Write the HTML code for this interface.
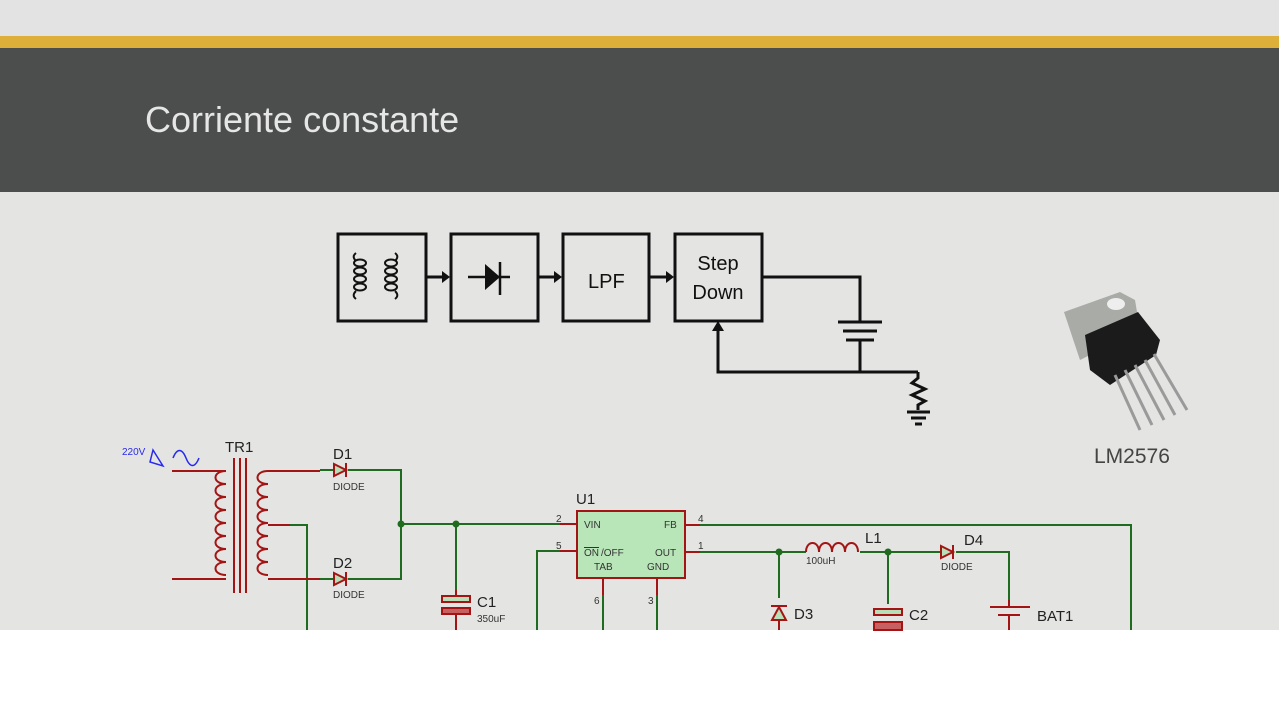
<!DOCTYPE html><html><head><style>
body{margin:0;width:1279px;height:720px;overflow:hidden;background:#fff;font-family:"Liberation Sans",sans-serif}
</style></head><body>
<svg width="1279" height="720" xmlns="http://www.w3.org/2000/svg" style="position:absolute;left:0;top:0">
<rect x="0" y="0" width="1279" height="36" fill="#e3e3e3"/>
<rect x="0" y="36" width="1279" height="12" fill="#deb03a"/>
<rect x="0" y="48" width="1279" height="144" fill="#4b4e4d"/>
<rect x="0" y="192" width="1279" height="438" fill="#e4e4e2"/>
<text x="145" y="132" font-size="36" fill="#e6e6e6">Corriente constante</text>
<g fill="none" stroke="#111" stroke-width="3">
<rect x="338" y="234" width="88" height="87"/><rect x="451" y="234" width="87" height="87"/>
<rect x="563" y="234" width="86" height="87"/><rect x="675" y="234" width="87" height="87"/>
<path d="M426 277H442M538 277H554M649 277H666"/>
<path d="M762 277H860V322M860 340V372H718V330M860 372H918"/>
<path d="M838 322H882M843 331H877M846 340H874" stroke-width="3"/>
<path d="M918 372V378L912 383L925 389L912 395L925 401L918 405V410M907 412H930M911 418H926M915 424H922"/>
<g stroke-width="2">
<ellipse cx="360" cy="263" rx="6" ry="3.5"/><ellipse cx="360" cy="271" rx="6" ry="3.5"/><ellipse cx="360" cy="279" rx="6" ry="3.5"/><ellipse cx="360" cy="287" rx="6" ry="3.5"/>
<ellipse cx="391" cy="263" rx="6" ry="3.5"/><ellipse cx="391" cy="271" rx="6" ry="3.5"/><ellipse cx="391" cy="279" rx="6" ry="3.5"/><ellipse cx="391" cy="287" rx="6" ry="3.5"/>
<path d="M356 253c-4 3-2 6 0 8M356 299c-4-3-2-6 0-8M395 253c4 3 2 6 0 8M395 299c4-3 2-6 0-8"/>
</g>
<path d="M468 277H510M500 262V295" stroke-width="2.5"/>
</g>
<g fill="#111"><path d="M442 271L450 277L442 283Z M554 271L562 277L554 283Z M666 271L674 277L666 283Z M712 331L718 321L724 331Z M485 264L500 277L485 290Z"/></g>
<text x="588" y="288" font-size="20" fill="#111">LPF</text>
<text x="718" y="270" font-size="20" fill="#111" text-anchor="middle">Step</text>
<text x="718" y="299" font-size="20" fill="#111" text-anchor="middle">Down</text>
<g transform="translate(1060,290)">
<path d="M4 22L60 2L75 10L80 40L20 70Z" fill="#a9aba7"/>
<ellipse cx="56" cy="14" rx="9" ry="6" fill="#eee"/>
<path d="M25 45L78 22L100 50L96 65L50 95L30 80Z" fill="#1b1b1b"/>
<g stroke="#9a9a9a" stroke-width="3"><path d="M55 85L80 140M65 80L92 135M75 75L104 130M85 70L115 125M94 64L127 120"/></g>
</g>
<text x="1094" y="463" font-size="21" fill="#444">LM2576</text>
<g fill="none" stroke-width="2">
<g stroke="#1f6b1f">
<path d="M320 470H334M348 470H401V579H348M320 579H334M401 524H560M456 524V590M537 630V551H560M307 630V525H290M603 595V630M657 595V630M700 525H1131V630M700 552H806M779 552V598M860 552H941M888 552V604M956 552H1009V600"/>
</g>
<g stroke="#a31515">
<path d="M172 471H226M172 579H226M268 471H320M268 579H320M268 525H290M560 524H577M560 551H577M685 525H700M685 552H700M603 578V595M657 578V595M779 620V630M888 628V630M1009 615V630M1009 600V607"/>
<path d="M226 471c-14 0 -14 13 0 13c-14 0 -14 13 0 13c-14 0 -14 13 0 13c-14 0 -14 13 0 13c-14 0 -14 13 0 13c-14 0 -14 13 0 13c-14 0 -14 13 0 13c-14 0 -14 13 0 13"/>
<path d="M268 471c-14 0 -14 13 0 13c-14 0 -14 13 0 13c-14 0 -14 13 0 13c-14 0 -14 13 0 13c-14 0 -14 13 0 13c-14 0 -14 13 0 13c-14 0 -14 13 0 13c-14 0 -14 13 0 13"/>
<path d="M234 458V593M240 458V593M246 458V593"/>
<path d="M806 552c0-12 13-12 13 0c0-12 13-12 13 0c0-12 13-12 13 0c0-12 13-12 13 0"/>
<path d="M990 607H1030M998 615H1020M456 590V596M456 614V630"/>
<rect x="442" y="596" width="28" height="6" fill="#b8e0b8"/>
<rect x="442" y="608" width="28" height="6" fill="#c76060"/>
<rect x="874" y="609" width="28" height="6" fill="#b8e0b8"/>
<rect x="874" y="622" width="28" height="8" fill="#c76060"/>
<rect x="577" y="511" width="108" height="67" fill="#b8e6b8"/>
<path d="M334 464L346 470L334 476ZM346 463V477M334 573L346 579L334 585ZM346 572V586M941 546L953 552L941 558ZM953 545V559M772 620L779 607L786 620ZM771 606H787" fill="#b8e0b8"/>
</g>
<path d="M163 466L153 450L150 462Z" stroke="#2a2aee" stroke-width="1.5"/>
<path d="M173 458c4-10 9-10 13 0s9 10 13 0" stroke="#2a2aee" stroke-width="1.5"/>
</g>
<circle cx="401" cy="524" r="3.5" fill="#1f6b1f"/><circle cx="456" cy="524" r="3.5" fill="#1f6b1f"/>
<circle cx="779" cy="552" r="3.5" fill="#1f6b1f"/><circle cx="888" cy="552" r="3.5" fill="#1f6b1f"/>
<g font-size="10" fill="#333">
<text x="122" y="455" fill="#2a2aee">220V</text>
<text x="333" y="490">DIODE</text><text x="333" y="598">DIODE</text>
<text x="477" y="622">350uF</text><text x="806" y="564">100uH</text><text x="941" y="570">DIODE</text>
<text x="584" y="528">VIN</text><text x="664" y="528">FB</text>
<text x="584" y="556" text-decoration="overline">ON</text><text x="601" y="556">/OFF</text>
<text x="655" y="556">OUT</text><text x="594" y="570">TAB</text><text x="647" y="570">GND</text>
<text x="556" y="522">2</text><text x="556" y="549">5</text><text x="698" y="522">4</text><text x="698" y="549">1</text>
<text x="594" y="604">6</text><text x="648" y="604">3</text>
</g>
<g font-size="15" fill="#222">
<text x="225" y="452">TR1</text><text x="333" y="459">D1</text><text x="333" y="568">D2</text>
<text x="477" y="607">C1</text><text x="576" y="504">U1</text><text x="865" y="543">L1</text>
<text x="964" y="545">D4</text><text x="794" y="619">D3</text><text x="909" y="620">C2</text><text x="1037" y="621">BAT1</text>
</g>
</svg>
</body></html>
